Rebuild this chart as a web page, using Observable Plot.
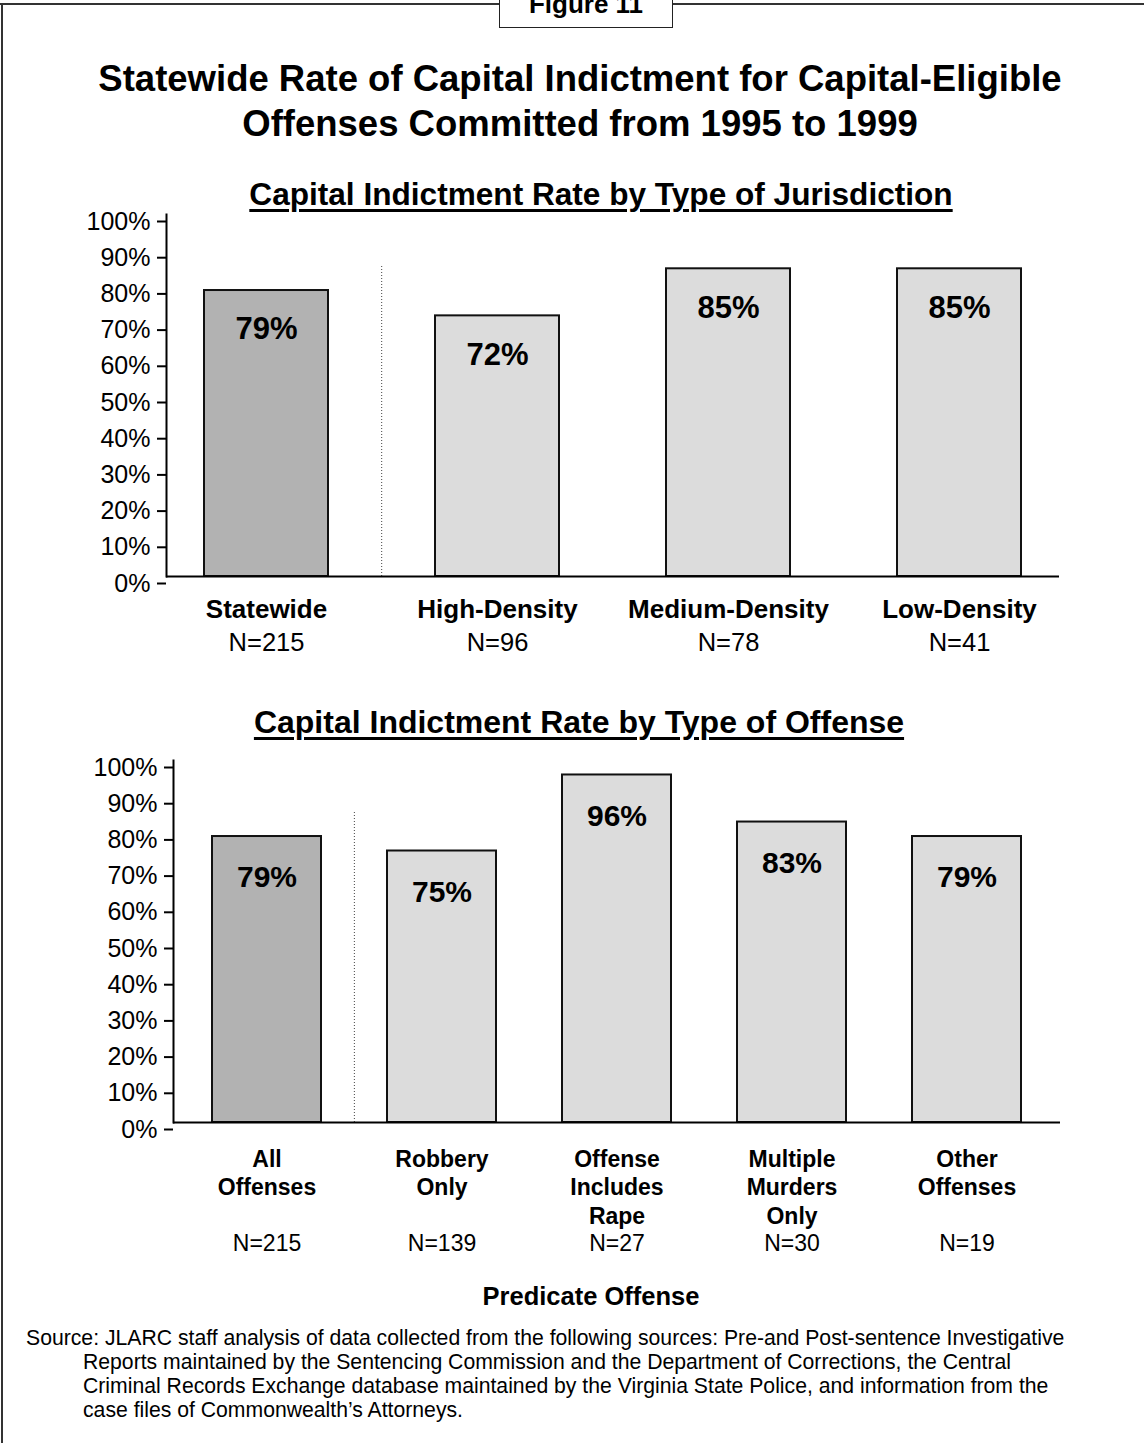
<!DOCTYPE html>
<html><head><meta charset="utf-8">
<script src="https://cdn.jsdelivr.net/npm/d3@7"></script>
<script src="https://cdn.jsdelivr.net/npm/@observablehq/plot@0.6"></script>
<style>
body{margin:0;background:#fff}
#page{position:relative;width:1144px;height:1443px;overflow:hidden;background:#fff;font-family:"Liberation Sans",Arial,Helvetica,sans-serif;color:#000}
.abs{position:absolute;white-space:nowrap;line-height:1}
svg{position:absolute;left:0;font-family:"Liberation Sans",Arial,Helvetica,sans-serif}
</style></head><body><div id="page"></div>
<script>
// ---- data ----
const jurisdictions = ["Statewide", "High-Density", "Medium-Density", "Low-Density"];
const jurisdictionRates = [79, 72, 85, 85];
const jurisdictionN = [215, 96, 78, 41];

const offenses = ["All\nOffenses", "Robbery\nOnly", "Offense\nIncludes\nRape", "Multiple\nMurders\nOnly", "Other\nOffenses"];
const offenseRates = [79, 75, 96, 83, 79];
const offenseN = [215, 139, 27, 30, 19];

const yTicks = [0, 10, 20, 30, 40, 50, 60, 70, 80, 90, 100];
const separatorTop = 86;

const mainTitle = ["Statewide Rate of Capital Indictment for Capital-Eligible", "Offenses Committed from 1995 to 1999"];
const title1 = "Capital Indictment Rate by Type of Jurisdiction";
const title2 = "Capital Indictment Rate by Type of Offense";
const xLabel2 = "Predicate Offense";
const sourceLines = [
  "Source: JLARC staff analysis of data collected from the following sources: Pre-and Post-sentence Investigative",
  "Reports maintained by the Sentencing Commission and the Department of Corrections, the Central",
  "Criminal Records Exchange database maintained by the Virginia State Police, and information from the",
  "case files of Commonwealth\u2019s Attorneys."
];

const page = document.getElementById("page");
const FONT = '"Liberation Sans",Arial,Helvetica,sans-serif';

function addText(str, {cx, left, baseline, fs, bold = false, underline = false}) {
  const d = document.createElement("div");
  d.className = "abs";
  d.textContent = str;
  d.style.fontSize = fs + "px";
  d.style.fontWeight = bold ? "bold" : "normal";
  d.style.top = (baseline - 0.8465 * fs) + "px";
  if (cx != null) { d.style.left = (cx - 600) + "px"; d.style.width = "1200px"; d.style.textAlign = "center"; }
  else d.style.left = left + "px";
  if (underline) {
    d.style.textDecoration = "underline";
    d.style.textDecorationThickness = "3px";
    d.style.textUnderlineOffset = "4px";
  }
  page.appendChild(d);
  return d;
}

// frame lines
const topLine = document.createElement("div");
Object.assign(topLine.style, {position: "absolute", left: "0px", top: "3px", width: "1144px", height: "0px", borderTop: "2px solid #333"});
page.appendChild(topLine);
const leftLine = document.createElement("div");
Object.assign(leftLine.style, {position: "absolute", left: "1px", top: "3px", width: "0px", height: "1450px", borderLeft: "2px solid #333"});
page.appendChild(leftLine);
const figBox = document.createElement("div");
Object.assign(figBox.style, {position: "absolute", left: "499px", top: "-22px", width: "172px", height: "48px", border: "1.5px solid #222", background: "#fff"});
page.appendChild(figBox);
addText("Figure 11", {cx: 586, baseline: 13, fs: 26, bold: true});

// titles
addText(mainTitle[0], {cx: 580, baseline: 92, fs: 36.5, bold: true});
addText(mainTitle[1], {cx: 580, baseline: 137, fs: 36.5, bold: true});
addText(title1, {cx: 601, baseline: 206, fs: 31.6, bold: true, underline: true});
addText(title2, {cx: 579, baseline: 733, fs: 32, bold: true, underline: true});

function chart({data, top, height, marginTop, marginBottom, marginLeft, marginRight, pi, po, valFs, valDy, catFs, catDy, catAnchor, catLH, nFs, nDy}) {
  const W = 1144;
  const n = data.length;
  const step = (W - marginLeft - marginRight) / (n - pi + 2 * po);
  const p = Plot.plot({
    width: W, height, marginTop, marginBottom, marginLeft, marginRight,
    style: {fontFamily: FONT, color: "#000", background: "transparent", overflow: "visible"},
    x: {type: "band", domain: data.map(d => d.name), paddingInner: pi, paddingOuter: po, axis: null},
    y: {domain: [0, 100], axis: null},
    marks: [
      Plot.ruleX([data[1].name], {x: d => d, y1: 0, y2: separatorTop, dx: -step / 2, stroke: "#444", strokeWidth: 1, strokeDasharray: "1,2"}),
      Plot.barY(data, {x: "name", y: "rate", fill: d => d.first ? "#b2b2b2" : "#dcdcdc", stroke: "#111", strokeWidth: 2}),
      Plot.frame({anchor: "left", stroke: "#000", strokeWidth: 2}),
      Plot.ruleY([0], {stroke: "#000", strokeWidth: 2}),
      Plot.axisY({ticks: yTicks, tickFormat: d => d + "%", label: null, tickSize: 9, tickPadding: 7, fontSize: 25, dy: 7, strokeWidth: 2, stroke: "#000", fill: "#000"}),
      Plot.text(data, {x: "name", y: "rate", text: d => d.rate + "%", dy: valDy, lineAnchor: "middle", fontSize: valFs, fontWeight: "bold", fill: "#000"}),
      Plot.text(data, {x: "name", text: "name", frameAnchor: "bottom", lineAnchor: catAnchor, dy: catDy, lineHeight: catLH, fontSize: catFs, fontWeight: "bold", fill: "#000"}),
      Plot.text(data, {x: "name", text: d => "N=" + d.n, frameAnchor: "bottom", lineAnchor: "middle", dy: nDy, fontSize: nFs, fill: "#000"})
    ]
  });
  p.style.top = top + "px";
  page.appendChild(p);
}

// ---- chart 1 ----
const data1 = jurisdictions.map((name, i) => ({name, rate: jurisdictionRates[i], n: jurisdictionN[i], first: i === 0}));
chart({data: data1, top: 200, height: 470, marginTop: 14, marginBottom: 94, marginLeft: 166, marginRight: 85,
  pi: 0.465, po: 0.16, valFs: 31, valDy: 39, catFs: 26, catDy: 33, catAnchor: "middle", catLH: 1, nFs: 25.5, nDy: 66});

// ---- chart 2 ----
const data2 = offenses.map((name, i) => ({name, rate: offenseRates[i], n: offenseN[i], first: i === 0}));
chart({data: data2, top: 745, height: 517, marginTop: 15, marginBottom: 140, marginLeft: 173, marginRight: 84,
  pi: 0.379, po: 0.22, valFs: 30, valDy: 41, catFs: 23, catDy: 25, catAnchor: "top", catLH: 1.22, nFs: 23, nDy: 121});

addText(xLabel2, {cx: 591, baseline: 1306, fs: 25.5, bold: true});

// source
sourceLines.forEach((s, i) => addText(s, {left: i === 0 ? 26 : 83, baseline: 1345 + i * 24, fs: 21.2}));
</script></body></html>
